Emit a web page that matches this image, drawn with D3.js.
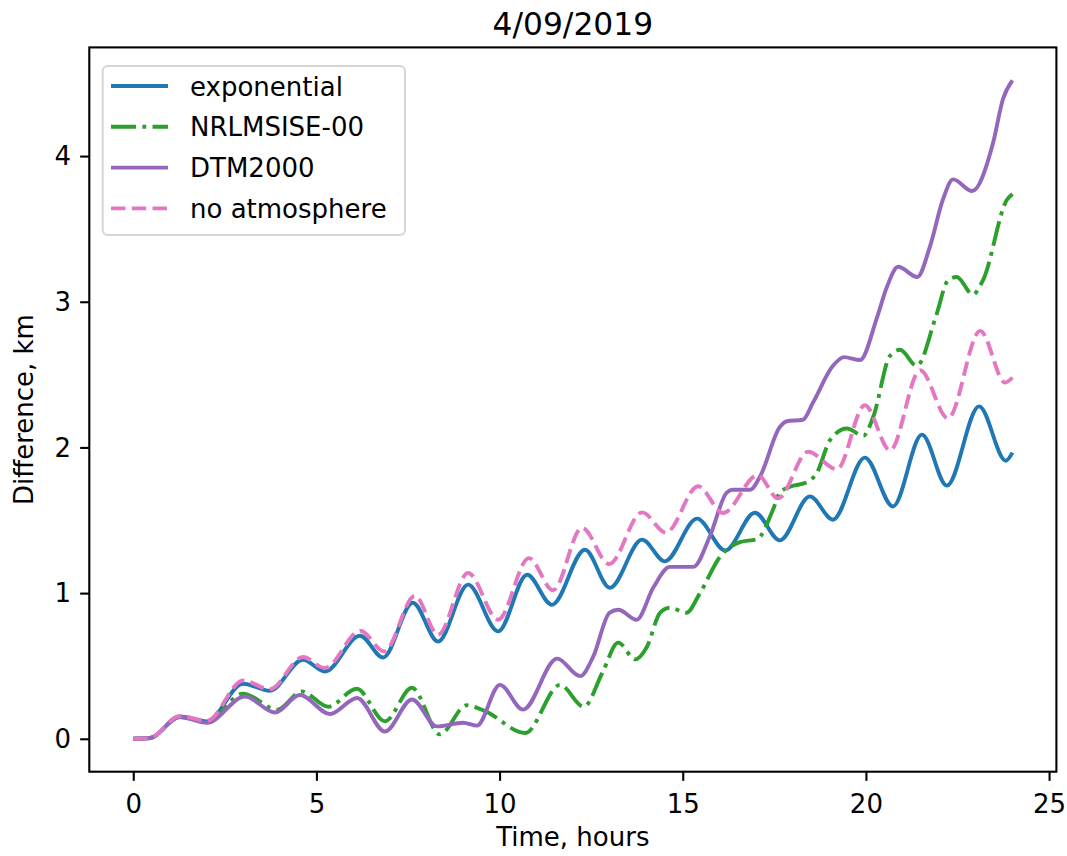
<!DOCTYPE html>
<html>
<head>
<meta charset="utf-8">
<script src="https://cdn.jsdelivr.net/npm/d3@7"></script>
<style>
  body { margin: 0; background: #fff; }
  svg { display: block; font-family: "DejaVu Sans", sans-serif; }
</style>
</head>
<body>
<svg id="chart" width="1067" height="856"></svg>
<script>
// hours since start
const expTime = [0, 0.46, 1.27, 2.01, 3.0, 3.73, 4.63, 5.23, 6.19, 6.82, 7.63, 8.32, 9.14, 9.96, 10.75, 11.43, 12.33, 13.01, 13.89, 14.51, 15.39, 16.16, 16.97, 17.65, 18.47, 19.1, 19.97, 20.74, 21.53, 22.21, 23.09, 23.82, 24.0];
const expDiff = [0, 0.005, 0.153, 0.119, 0.378, 0.33, 0.543, 0.462, 0.707, 0.558, 0.934, 0.668, 1.058, 0.737, 1.126, 0.92, 1.298, 1.037, 1.367, 1.218, 1.511, 1.293, 1.552, 1.362, 1.664, 1.504, 1.93, 1.595, 2.088, 1.738, 2.282, 1.909, 1.964];

const msisTime = [0, 0.46, 1.27, 2.01, 3.0, 3.93, 4.6, 5.32, 6.1, 6.87, 7.61, 8.37, 9.1, 9.6, 10.7, 11.65, 12.3, 12.8, 13.24, 13.7, 14.02, 14.38, 14.65, 15.1, 15.47, 16.02, 16.56, 17.03, 17.46, 17.65, 17.93, 18.39, 18.66, 19.02, 19.48, 19.93, 20.2, 20.66, 20.93, 21.39, 21.9, 22.25, 22.48, 22.92, 23.2, 23.85, 24.0];
const msisDiff = [0, 0.005, 0.15, 0.115, 0.31, 0.2, 0.325, 0.22, 0.343, 0.12, 0.35, 0.03, 0.23, 0.19, 0.04, 0.37, 0.22, 0.45, 0.66, 0.545, 0.63, 0.865, 0.9, 0.865, 1.0, 1.25, 1.35, 1.37, 1.57, 1.69, 1.73, 1.76, 1.825, 2.05, 2.13, 2.08, 2.21, 2.63, 2.67, 2.56, 2.89, 3.15, 3.17, 3.05, 3.15, 3.7, 3.74];

const dtmTime = [0, 0.46, 1.27, 2.01, 3.05, 3.87, 4.55, 5.37, 6.11, 6.87, 7.61, 8.29, 9.0, 9.38, 10.01, 10.64, 11.57, 12.2, 12.55, 13.0, 13.24, 13.74, 14.2, 14.65, 15.29, 15.74, 16.2, 16.37, 16.84, 17.11, 17.65, 17.84, 18.28, 18.56, 19.1, 19.4, 19.84, 20.3, 20.57, 20.88, 21.4, 21.75, 22.1, 22.38, 22.9, 23.47, 23.74, 24.0];
const dtmDiff = [0, 0.005, 0.15, 0.11, 0.29, 0.18, 0.3, 0.17, 0.28, 0.05, 0.27, 0.085, 0.11, 0.09, 0.37, 0.2, 0.55, 0.43, 0.56, 0.865, 0.886, 0.817, 1.04, 1.18, 1.18, 1.39, 1.69, 1.71, 1.71, 1.8, 2.14, 2.18, 2.19, 2.31, 2.56, 2.62, 2.6, 2.89, 3.1, 3.24, 3.17, 3.38, 3.7, 3.84, 3.76, 4.09, 4.39, 4.52];

const noAtmTime = [0, 0.46, 1.27, 2.01, 3.0, 3.73, 4.63, 5.23, 6.2, 6.85, 7.69, 8.32, 9.14, 9.96, 10.8, 11.46, 12.25, 12.99, 13.89, 14.54, 15.42, 16.1, 17.05, 17.6, 18.42, 19.21, 19.97, 20.66, 21.48, 22.24, 23.12, 23.8, 24.0];
const noAtmDiff = [0, 0.005, 0.156, 0.124, 0.4, 0.34, 0.561, 0.486, 0.742, 0.6, 0.981, 0.714, 1.138, 0.817, 1.24, 1.02, 1.449, 1.2, 1.554, 1.415, 1.733, 1.55, 1.81, 1.65, 1.97, 1.85, 2.29, 1.98, 2.53, 2.2, 2.8, 2.445, 2.48];

const seriesNames = ["exponential", "NRLMSISE-00", "DTM2000", "no atmosphere"];
const xTicks = [0, 5, 10, 15, 20, 25];
const yTicks = [0, 1, 2, 3, 4];

const pt = 188 / 72; // figure was saved at ~188 dpi
const series = [
    { name: seriesNames[0], t: expTime, v: expDiff, color: "#1f77b4", dash: null },
    { name: seriesNames[1], t: msisTime, v: msisDiff, color: "#2ca02c", dash: [6.4, 1.6, 1, 1.6] },
    { name: seriesNames[2], t: dtmTime, v: dtmDiff, color: "#9467bd", dash: null },
    { name: seriesNames[3], t: noAtmTime, v: noAtmDiff, color: "#e377c2", dash: [3.7, 1.6] }
];
const lw = 1.5 * pt;
const dashArray = (d) => d ? d.map(a => a * 1.5 * pt).join(",") : null;

// matplotlib-style 5% margins
function padded(ext) {
    let span = ext[1] - ext[0];
    return [ext[0] - 0.05 * span, ext[1] + 0.05 * span];
}

const plot = { left: 89.3, right: 1056.4, top: 47.4, bottom: 771.7 };
const x = d3.scaleLinear()
    .domain(padded(d3.extent(series.flatMap(s => s.t))))
    .range([plot.left, plot.right]);
const y = d3.scaleLinear()
    .domain(padded(d3.extent(series.flatMap(s => s.v))))
    .range([plot.bottom, plot.top]);

const svg = d3.select("#chart");

svg.append("defs").append("clipPath").attr("id", "clip")
    .append("rect")
    .attr("x", plot.left).attr("y", plot.top)
    .attr("width", plot.right - plot.left).attr("height", plot.bottom - plot.top);

const line = d3.line()
    .x(d => x(d[0]))
    .y(d => y(d[1]))
    .curve(d3.curveMonotoneX);

svg.append("g").attr("clip-path", "url(#clip)")
    .selectAll("path")
    .data(series)
    .enter().append("path")
        .attr("d", s => line(s.t.map((t, i) => [t, s.v[i]])))
        .attr("fill", "none")
        .attr("stroke", s => s.color)
        .attr("stroke-width", lw)
        .attr("stroke-linejoin", "round")
        .attr("stroke-dasharray", s => dashArray(s.dash));

// axes
const tickLen = 3.5 * pt, tickPad = 3.5 * pt, fontSize = 26;

const xAxis = svg.append("g")
    .attr("transform", `translate(0,${plot.bottom})`)
    .call(d3.axisBottom(x).tickValues(xTicks).tickSize(tickLen).tickPadding(tickPad).tickFormat(d3.format("d")));
xAxis.selectAll("text").attr("dy", "0.89em");

const yAxis = svg.append("g")
    .attr("transform", `translate(${plot.left},0)`)
    .call(d3.axisLeft(y).tickValues(yTicks).tickSize(tickLen).tickPadding(tickPad).tickFormat(d3.format("d")));
yAxis.selectAll("text").attr("dy", "0.34em");

svg.selectAll(".domain").remove();
svg.selectAll(".tick line").attr("stroke", "#000").attr("stroke-width", 0.8 * pt);
svg.selectAll(".tick text")
    .attr("fill", "#000")
    .style("font-family", "'DejaVu Sans', sans-serif")
    .style("font-size", fontSize + "px");

svg.append("rect")
    .attr("x", plot.left).attr("y", plot.top)
    .attr("width", plot.right - plot.left).attr("height", plot.bottom - plot.top)
    .attr("fill", "none")
    .attr("stroke", "#000")
    .attr("stroke-width", 0.8 * pt);

// labels
const midX = (plot.left + plot.right) / 2;
svg.append("text")
    .attr("x", midX).attr("y", 35)
    .attr("text-anchor", "middle")
    .style("font-size", "31.3px")
    .text("4/09/2019");

svg.append("text")
    .attr("x", midX).attr("y", 846)
    .attr("text-anchor", "middle")
    .style("font-size", fontSize + "px")
    .text("Time, hours");

svg.append("text")
    .attr("transform", `translate(33,${(plot.top + plot.bottom) / 2}) rotate(-90)`)
    .attr("text-anchor", "middle")
    .style("font-size", fontSize + "px")
    .text("Difference, km");

// legend
const legend = svg.append("g");
legend.append("rect")
    .attr("x", 102.7).attr("y", 66)
    .attr("width", 302.3).attr("height", 169)
    .attr("rx", 5)
    .attr("fill", "rgba(255,255,255,0.8)")
    .attr("stroke", "rgba(204,204,204,0.8)")
    .attr("stroke-width", 2);

const rows = legend.selectAll("g.row")
    .data(series)
    .enter().append("g")
        .attr("class", "row")
        .attr("transform", (d, i) => `translate(0,${86 + i * 40.8})`);

rows.append("line")
    .attr("x1", 111).attr("x2", 168)
    .attr("stroke", d => d.color)
    .attr("stroke-width", lw)
    .attr("stroke-dasharray", d => dashArray(d.dash));

rows.append("text")
    .attr("x", 190).attr("y", 9.5)
    .style("font-size", fontSize + "px")
    .text(d => d.name);
</script>
</body>
</html>
